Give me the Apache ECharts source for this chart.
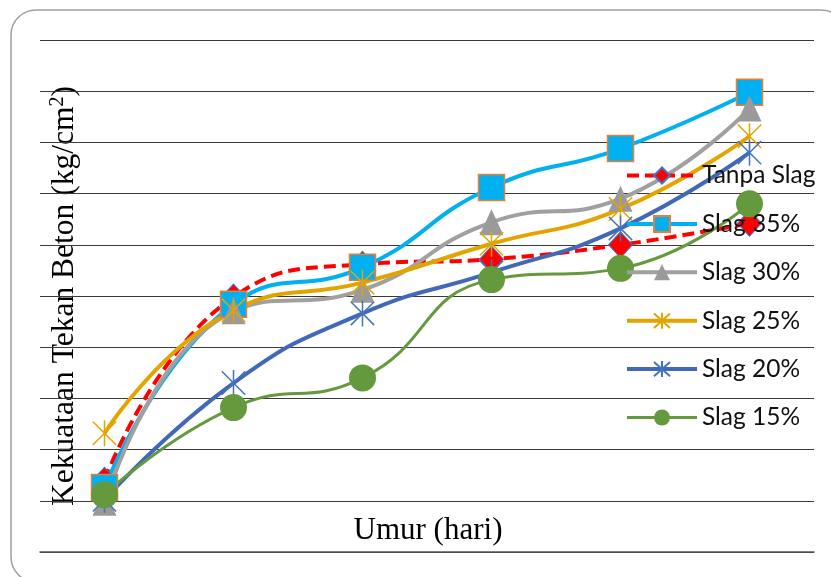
<!DOCTYPE html>
<html>
<head>
<meta charset="utf-8">
<script src="https://cdn.jsdelivr.net/npm/echarts@6/dist/echarts.min.js"></script>
<style>
  html, body { margin: 0; padding: 0; background: #ffffff; }
  #chart { width: 831px; height: 577px; }
</style>
</head>
<body>
<div id="chart"></div>
<script>
// ---- data ----
var categories = ['1', '3', '7', '14', '21', '28'];
var seriesNames = ['Tanpa Slag', 'Slag 35%', 'Slag 30%', 'Slag 25%', 'Slag 20%', 'Slag 15%'];
var tanpaSlag = [70, 249, 281, 286, 300, 321];
var slag35 = [63, 242, 278, 356, 394, 449];
var slag30 = [48, 235, 256, 322, 345, 433];
var slag25 = [116, 236, 263, 301, 335, 406];
var slag20 = [51, 165, 233, 273, 316, 390];
var slag15 = [56, 141, 170, 266, 277, 340];
var yTicks = [0, 50, 100, 150, 200, 250, 300, 350, 400, 450, 500];

var STAR = 'path://M1,1L19,19M19,1L1,19M10,0L10,20';

var chart = echarts.init(document.getElementById('chart'), null, { renderer: 'canvas' });

function lineSeries(name, data, lineColor, lineWidth, lineType, symbol, symbolSize, itemStyle) {
  return {
    name: name,
    type: 'line',
    data: data,
    smooth: 0.5,
    symbol: symbol,
    symbolSize: symbolSize,
    symbolKeepAspect: true,
    showAllSymbol: true,
    lineStyle: { color: lineColor, width: lineWidth, type: lineType },
    itemStyle: itemStyle,
    emphasis: { disabled: true },
    animation: false
  };
}

var legendData = seriesNames.map(function (n, i) {
  return { name: n, lineStyle: { width: i === 5 ? 3 : 4 } };
});

var option = {
  backgroundColor: '#ffffff',
  animation: false,
  grid: { left: 40, right: 17, top: 40, bottom: 25, containLabel: false },
  xAxis: {
    type: 'category',
    data: categories,
    boundaryGap: true,
    axisLine: { show: true, lineStyle: { color: '#555555', width: 1.5 } },
    axisTick: { show: false },
    axisLabel: { show: false },
    splitLine: { show: false }
  },
  yAxis: {
    type: 'value',
    min: yTicks[0],
    max: yTicks[yTicks.length - 1],
    interval: yTicks[1] - yTicks[0],
    axisLine: { show: false },
    axisTick: { show: false },
    axisLabel: { show: false },
    splitLine: { show: true, lineStyle: { color: '#3a3a3a', width: 1 } }
  },
  legend: {
    orient: 'vertical',
    left: 625,
    top: 163,
    padding: 0,
    itemWidth: 70,
    itemHeight: 20,
    itemGap: 23.4,
    data: legendData,
    lineStyle: { width: 4 },
    textStyle: { fontFamily: 'Lato', fontSize: 24.5, color: '#111111', lineHeight: 20 }
  },
  graphic: [
    {
      type: 'rect',
      silent: true,
      z: -10,
      shape: { x: 11, y: 10, width: 835, height: 572, r: 25 },
      style: { fill: 'none', stroke: '#a0a0a0', lineWidth: 1.5 }
    },
    {
      type: 'text',
      silent: true,
      x: 428,
      y: 531,
      style: {
        text: 'Umur (hari)',
        font: '31px "Liberation Serif"',
        fill: '#000000',
        textAlign: 'center',
        textVerticalAlign: 'middle'
      }
    },
    {
      type: 'text',
      silent: true,
      x: 65,
      y: 296,
      rotation: Math.PI / 2,
      style: {
        text: '{a|Kekuataan Tekan Beton (kg/cm}{s|2}{a|)}',
        fill: '#000000',
        textAlign: 'center',
        textVerticalAlign: 'middle',
        rich: {
          a: { fontFamily: 'Liberation Serif', fontSize: 31.5, lineHeight: 34, fill: '#000000' },
          s: { fontFamily: 'Liberation Serif', fontSize: 20, lineHeight: 34, verticalAlign: 'top', fill: '#000000' }
        }
      }
    }
  ],
  series: [
    lineSeries(seriesNames[0], tanpaSlag, '#FF0000', 4, [12, 6], 'diamond', [24, 26],
      { color: '#FF0000', borderColor: '#4472C4', borderWidth: 1 }),
    lineSeries(seriesNames[1], slag35, '#00B0F0', 4, 'solid', 'rect', 26,
      { color: '#00B0F0', borderColor: '#ED7D31', borderWidth: 1.5 }),
    lineSeries(seriesNames[2], slag30, '#A0A0A0', 4, 'solid', 'triangle', [24, 26],
      { color: '#9A9A9A' }),
    lineSeries(seriesNames[3], slag25, '#E2A500', 4, 'solid', STAR, 26,
      { color: 'transparent', borderColor: '#E2A500', borderWidth: 1.5 }),
    lineSeries(seriesNames[4], slag20, '#4169B8', 4, 'solid', STAR, 26,
      { color: 'transparent', borderColor: '#4472C4', borderWidth: 1.5 }),
    lineSeries(seriesNames[5], slag15, '#64993D', 3, 'solid', 'circle', 27,
      { color: '#64993D' })
  ]
};

chart.setOption(option);
</script>
</body>
</html>
